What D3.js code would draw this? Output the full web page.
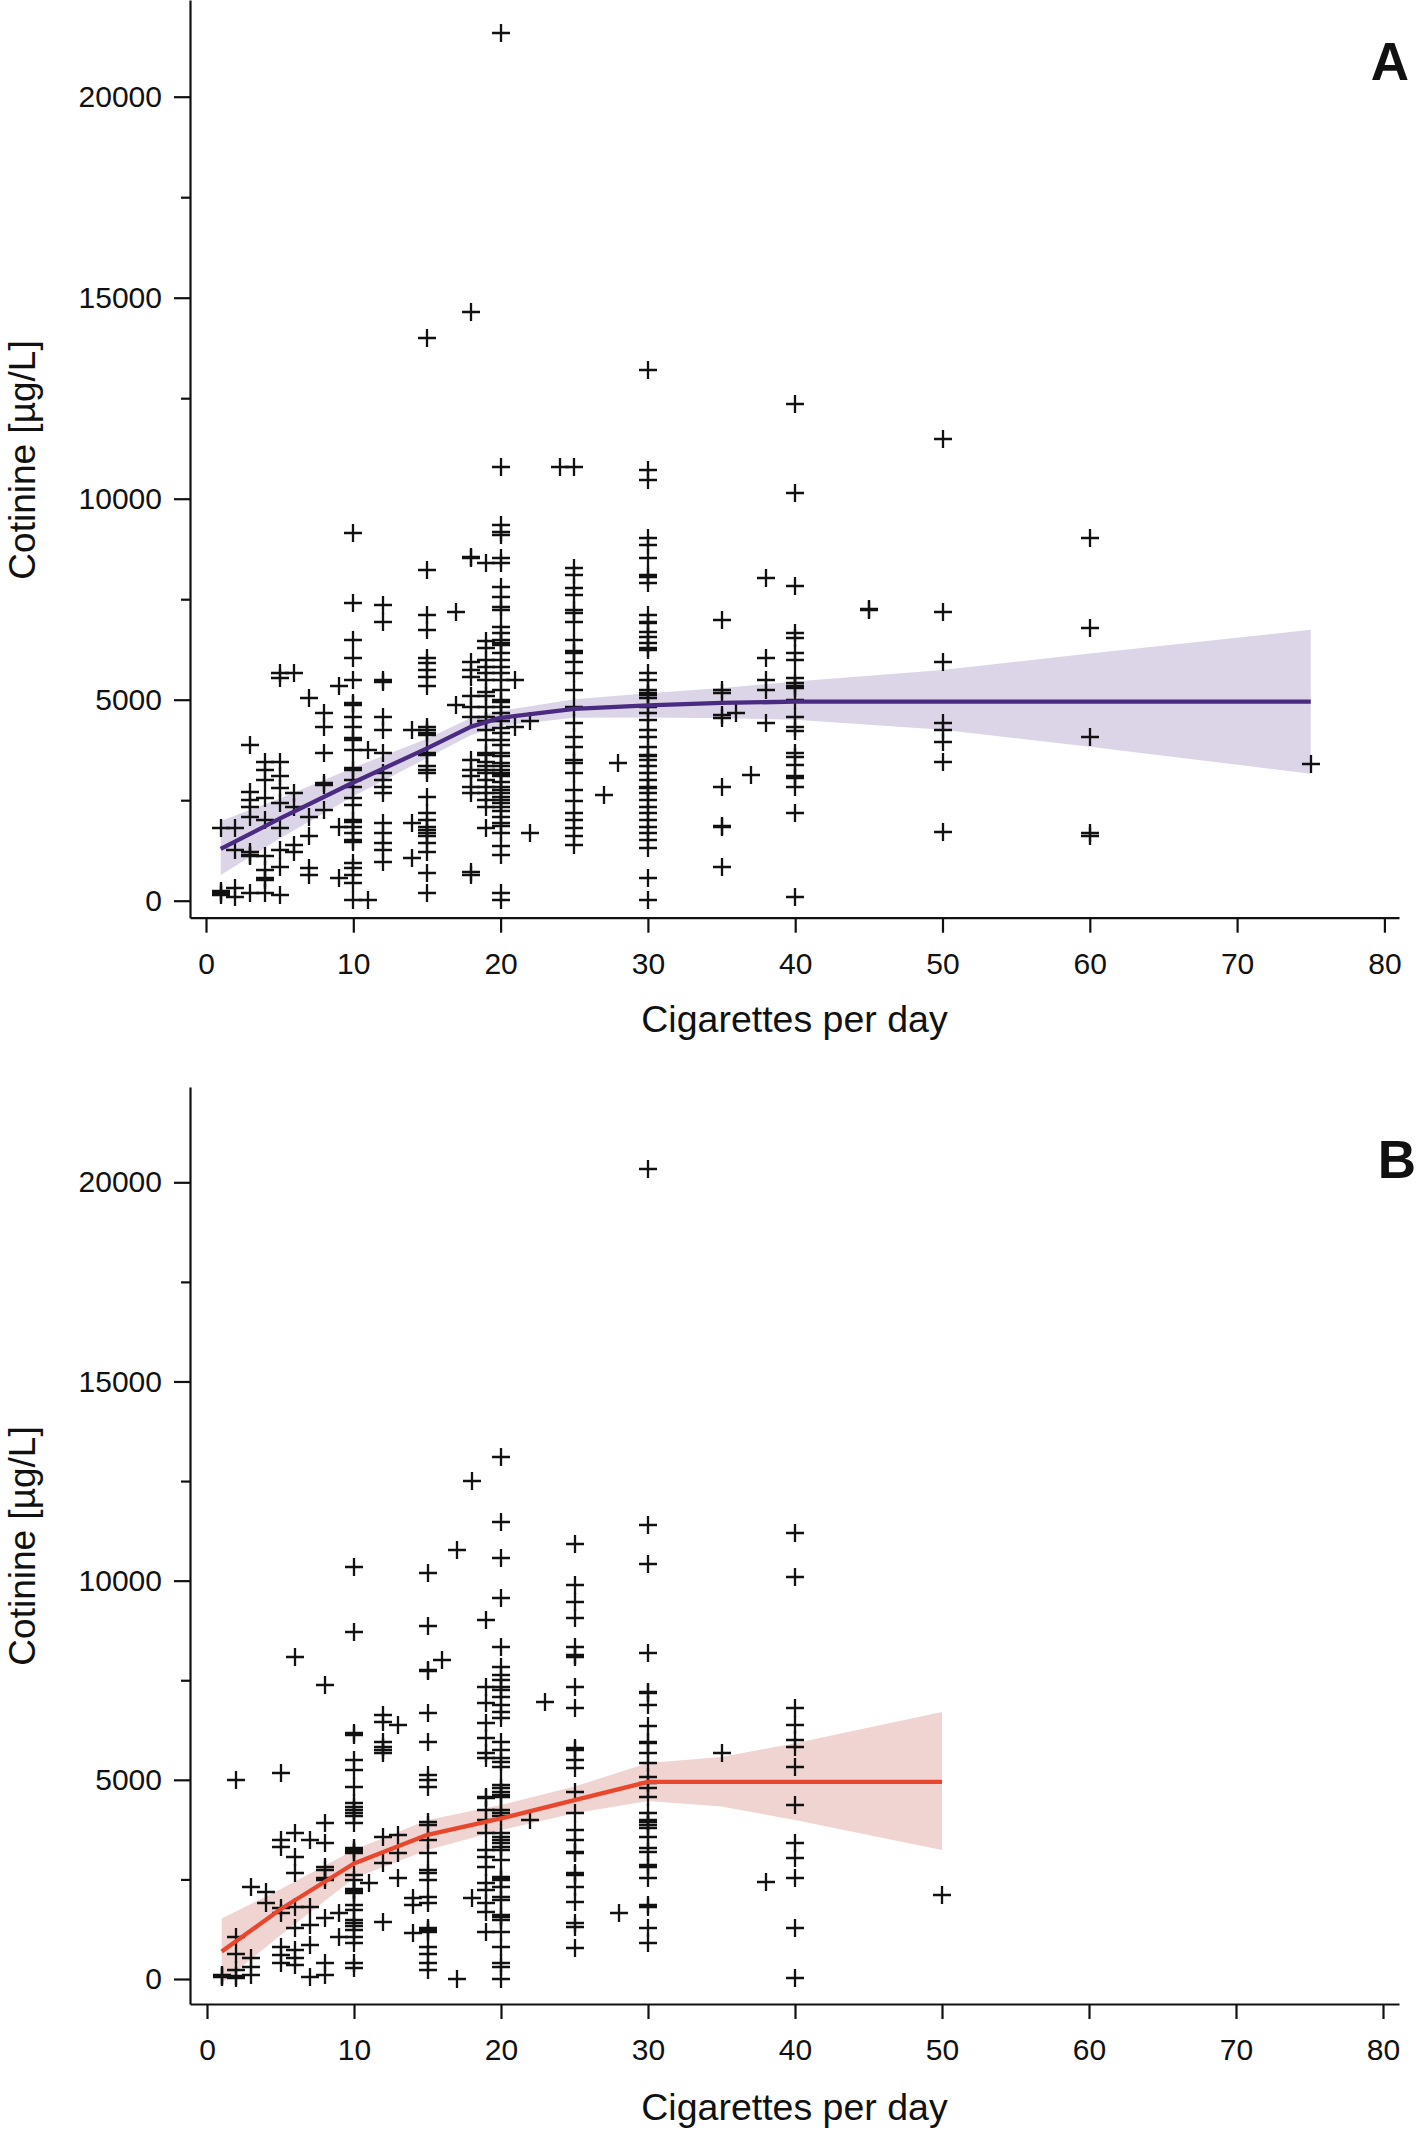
<!DOCTYPE html>
<html>
<head>
<meta charset="utf-8">
<script src="https://cdn.jsdelivr.net/npm/d3@7"></script>
<style>
html,body{margin:0;padding:0;background:#fff;}
svg{display:block;}
text{font-family:"Liberation Sans",Arial,Helvetica,sans-serif;fill:#111;}
</style>
</head>
<body>
<svg id="chart" width="1416" height="2131"></svg>
<script>
// ---------- DATA ----------
const xTicks = [0, 10, 20, 30, 40, 50, 60, 70, 80];
const yTicksMajor = [0, 5000, 10000, 15000, 20000];
const yTicksMinor = [2500, 7500, 12500, 17500];
const xLabel = "Cigarettes per day";
const yLabel = "Cotinine [µg/L]";

// Panel A: cigarettes per day (column) and cotinine values observed in that column
const colsA = [1,2,3,4,5,6,7,8,9,10,11,12,14,15,17,18,19,20,21,22,24,25,27,28,30,35,36,37,38,40,45,50,60,75];
const valsA = [
  [1800,230,180,130],
  [1800,1260,310,100],
  [3880,2710,2510,2340,2090,1220,1140,1100,190],
  [3460,3250,3000,2550,2010,1100,770,560,520,190],
  [5660,5530,3460,3090,2800,2420,1800,1260,850,150],
  [5660,2670,2340,1390,1220],
  [5040,2090,1600,810,640],
  [4660,4330,3670,2920,2880,2260],
  [5330,1840,560],
  [9140,7400,6490,6030,5490,4910,4870,4580,4330,4040,4000,3750,3300,3250,3000,2840,2550,2380,2010,1970,1840,1680,1510,1470,930,810,640,430,20],
  [3750,20],
  [7360,6940,5490,5450,4580,4250,3670,3170,3000,2840,2670,1930,1680,1430,1260,970],
  [4250,1930,1060],
  [13990,8230,7110,6740,6030,5910,5740,5570,5330,4330,4250,4170,4120,3670,3630,3340,3250,3170,2590,2180,2010,1840,1760,1680,1600,1430,1220,680,190],
  [7190,4870],
  [14650,8560,8520,5950,5740,5570,5080,4830,4580,3500,3250,3090,2840,2670,720,640],
  [8390,6450,6280,5990,5820,5660,5490,5200,5080,4830,4580,4460,4250,4000,3670,3630,3460,3340,3250,3170,3000,2840,2670,2510,2340,1800],
  [21580,10800,9350,9180,9100,8520,8390,7810,7560,7310,7230,6820,6650,6490,6400,6360,6150,5990,5820,5660,5490,5240,5000,4950,4830,4660,4540,4460,4290,4170,4000,3880,3670,3590,3420,3340,3250,3170,3130,3090,2960,2840,2760,2670,2590,2510,2420,2340,2220,2090,1930,1850,1680,1350,1140,190,20],
  [5490,4330],
  [4460,1680],
  [10800],
  [10800,8270,8100,7770,7600,7230,7150,6940,6490,6200,6150,5950,5660,5240,4830,4410,4080,3830,3500,3420,3170,2760,2470,2180,2010,1800,1600,1390],
  [2630],
  [3420],
  [13200,10710,10470,9020,8850,8520,8100,8060,7900,7110,6940,6900,6690,6570,6400,6280,6240,5660,5490,5240,5160,5120,5040,4830,4660,4500,4250,4080,3830,3630,3590,3500,3340,3170,3000,2840,2800,2670,2510,2340,2180,2010,1840,1680,1510,1310,560,20],
  [6980,5240,5160,4620,4540,2840,1860,1830,850],
  [4660],
  [3130],
  [8020,6030,5490,5240,4410],
  [12360,10130,7840,6650,6530,6150,5990,5530,5410,5330,5280,4990,4580,4330,4210,3670,3580,3380,3090,3050,2840,2180,100],
  [7250,7230],
  [11490,7190,5950,4410,4250,3960,3460,1720],
  [9030,6790,4080,1680,1600],
  [3410]
];

// Panel A fitted curve and confidence band
const fitCigsA = [1,5,10,15,18,20,25,30,35,40,50,60,75];
const fitA     = [1290,2040,2940,3790,4330,4550,4770,4860,4920,4950,4950,4950,4950];
const lowA     = [640,1545,2600,3550,4120,4350,4550,4560,4540,4500,4250,3830,3160];
const upA      = [1980,2540,3310,4030,4550,4720,5010,5160,5290,5450,5740,6150,6740];

// Panel B
const colsB = [1,2,3,4,5,6,7,8,9,10,11,12,13,14,15,16,17,18,19,20,22,23,25,28,30,35,38,40,50];
const valsB = [
  [110,70,40],
  [5000,1060,640,230,80,20],
  [2320,520,310,100],
  [2190,1900],
  [5160,3490,3320,1770,1650,810,600,400],
  [8090,3660,3070,2650,1820,1270,730,530,350],
  [3490,1820,1360,850,60],
  [7380,3910,3410,2820,2740,2530,2490,1520,390,100],
  [1650,1060],
  [10350,8720,6170,6130,5500,5250,4830,4410,4330,4240,4160,4080,3910,3280,3240,3200,3160,2610,2490,2270,2230,2190,2150,1860,1730,1480,1400,1320,1230,1060,900,390,270],
  [2400],
  [6630,6460,5960,5830,5750,5670,3570,2900,1440],
  [6380,3620,3160,2530],
  [2030,1860,1150],
  [10190,8850,7760,7720,6670,5960,5120,5000,4830,3950,3870,3490,3160,2740,2650,2490,2070,1900,1270,1230,1190,810,640,390,230],
  [8010],
  [10780,0],
  [12490,2030],
  [9010,7340,6920,6420,6040,5670,5540,4580,4540,4240,3990,3660,3240,3070,2820,2400,2230,1900,1690,1190],
  [13110,11480,10560,9560,8340,7840,7630,7510,7340,7260,7090,6880,6710,6540,5960,5750,5540,5450,5330,4870,4790,4700,4620,4580,4240,4160,4080,3660,3570,3490,3410,3320,3240,2990,2570,2530,2490,2320,2070,1980,1610,1560,1480,1190,810,390,310,0],
  [3990],
  [6960],
  [10910,9900,9470,9060,8340,8130,8090,7340,6800,5790,5750,5500,5290,4700,4160,3740,3490,3200,3160,2650,2610,2320,1940,1400,1310,770],
  [1650],
  [20330,11390,10420,8180,7210,7170,6880,6340,5960,5920,5670,5420,5080,4910,4790,4580,4160,3990,3950,3870,3780,3570,3280,3200,2860,2820,2530,1860,1820,1270,900],
  [5670],
  [2440],
  [11190,10100,6800,6380,6000,5830,5330,4370,3410,3030,2530,1270,20],
  [2110]
];

const fitCigsB = [1,5,10,15,20,25,30,35,40,50];
const fitB     = [690,1750,2900,3620,4030,4490,4950,4950,4950,4950];
const lowB     = [-100,1100,2530,3240,3740,4160,4470,4330,3990,3240];
const upB      = [1520,2250,3240,3990,4370,4830,5420,5570,5920,6700];

// ---------- LAYOUT ----------
const panels = [
  { id:"A", cols:colsA, vals:valsA, fc:fitCigsA, fit:fitA, lo:lowA, hi:upA,
    left:190, right:1399, x0:206, x80:1384.4, top:0, bottom:917.7, y0:900.7, y20:96.7,
    band:"#dcd5e8", line:"#4b2a82", tag:{x:1409, y:80},
    yLab:{x:35, y:460}, xLabY:1032 },
  { id:"B", cols:colsB, vals:valsB, fc:fitCigsB, fit:fitB, lo:lowB, hi:upB,
    left:190, right:1399, x0:207, x80:1383, top:1087, bottom:2004, y0:1979, y20:1182.3,
    band:"#efd4d1", line:"#e8462d", tag:{x:1416, y:1178},
    yLab:{x:35, y:1546}, xLabY:2120 }
];

const svg = d3.select("#chart");
svg.append("rect").attr("width",1416).attr("height",2131).attr("fill","#fff");

panels.forEach(p => {
  const xb = d3.scaleLinear().domain([0,80]).range([p.x0,p.x80]);
  const x = d3.scaleLinear().domain([xb.invert(p.left), xb.invert(p.right)]).range([p.left,p.right]);
  const yb = d3.scaleLinear().domain([0,20000]).range([p.y0,p.y20]);
  const y = d3.scaleLinear().domain([yb.invert(p.bottom), yb.invert(p.top)]).range([p.bottom,p.top]);

  const g = svg.append("g");

  // confidence band
  const bandData = p.fc.map((c,i)=>({c, lo:p.lo[i], hi:p.hi[i], f:p.fit[i]}));
  g.append("path").datum(bandData)
    .attr("d", d3.area().x(d=>x(d.c)).y0(d=>y(d.lo)).y1(d=>y(d.hi)))
    .attr("fill", p.band).attr("stroke","none");

  // points
  const pts = [];
  p.cols.forEach((c,i)=> p.vals[i].forEach(v => pts.push({c,v})));
  g.append("g").selectAll("path").data(pts).join("path")
    .attr("transform", d=>`translate(${Math.round(x(d.c))},${Math.round(y(d.v))})`)
    .attr("d","M-9,0H9M0,-9V9")
    .attr("stroke","#111").attr("stroke-width",2.3).attr("fill","none");

  // fitted line
  g.append("path").datum(bandData)
    .attr("d", d3.line().x(d=>x(d.c)).y(d=>y(d.f)))
    .attr("fill","none").attr("stroke",p.line).attr("stroke-width",4.3)
    .attr("stroke-linejoin","round");

  // axes
  const xAxis = g.append("g").attr("transform",`translate(0,${p.bottom})`)
    .call(d3.axisBottom(x).tickValues(xTicks).tickSizeInner(15).tickSizeOuter(0).tickPadding(20).tickFormat(d3.format("d")));
  const yMinor = g.append("g").attr("transform",`translate(${p.left},0)`)
    .call(d3.axisLeft(y).tickValues(yTicksMinor).tickSize(9).tickFormat(""));
  yMinor.select(".domain").remove();
  const yAxis = g.append("g").attr("transform",`translate(${p.left},0)`)
    .call(d3.axisLeft(y).tickValues(yTicksMajor).tickSizeInner(16).tickSizeOuter(0).tickPadding(12).tickFormat(d3.format("d")));
  [xAxis,yMinor,yAxis].forEach(a=>{
    a.selectAll("path,line").attr("stroke","#111").attr("stroke-width",2.2);
    a.selectAll("text").attr("font-size",30).attr("fill","#111")
      .attr("font-family","'Liberation Sans',Arial,sans-serif");
  });

  // axis titles
  g.append("text").attr("x",(p.left+p.right)/2).attr("y",p.xLabY)
    .attr("text-anchor","middle").attr("font-size",37.5).text(xLabel);
  g.append("text").attr("transform",`translate(${p.yLab.x},${p.yLab.y}) rotate(-90)`)
    .attr("text-anchor","middle").attr("font-size",37).text(yLabel);

  // panel tag
  g.append("text").attr("x",p.tag.x).attr("y",p.tag.y).attr("text-anchor","end")
    .attr("font-size",53).attr("font-weight","bold").text(p.id);
});
</script>
</body>
</html>
